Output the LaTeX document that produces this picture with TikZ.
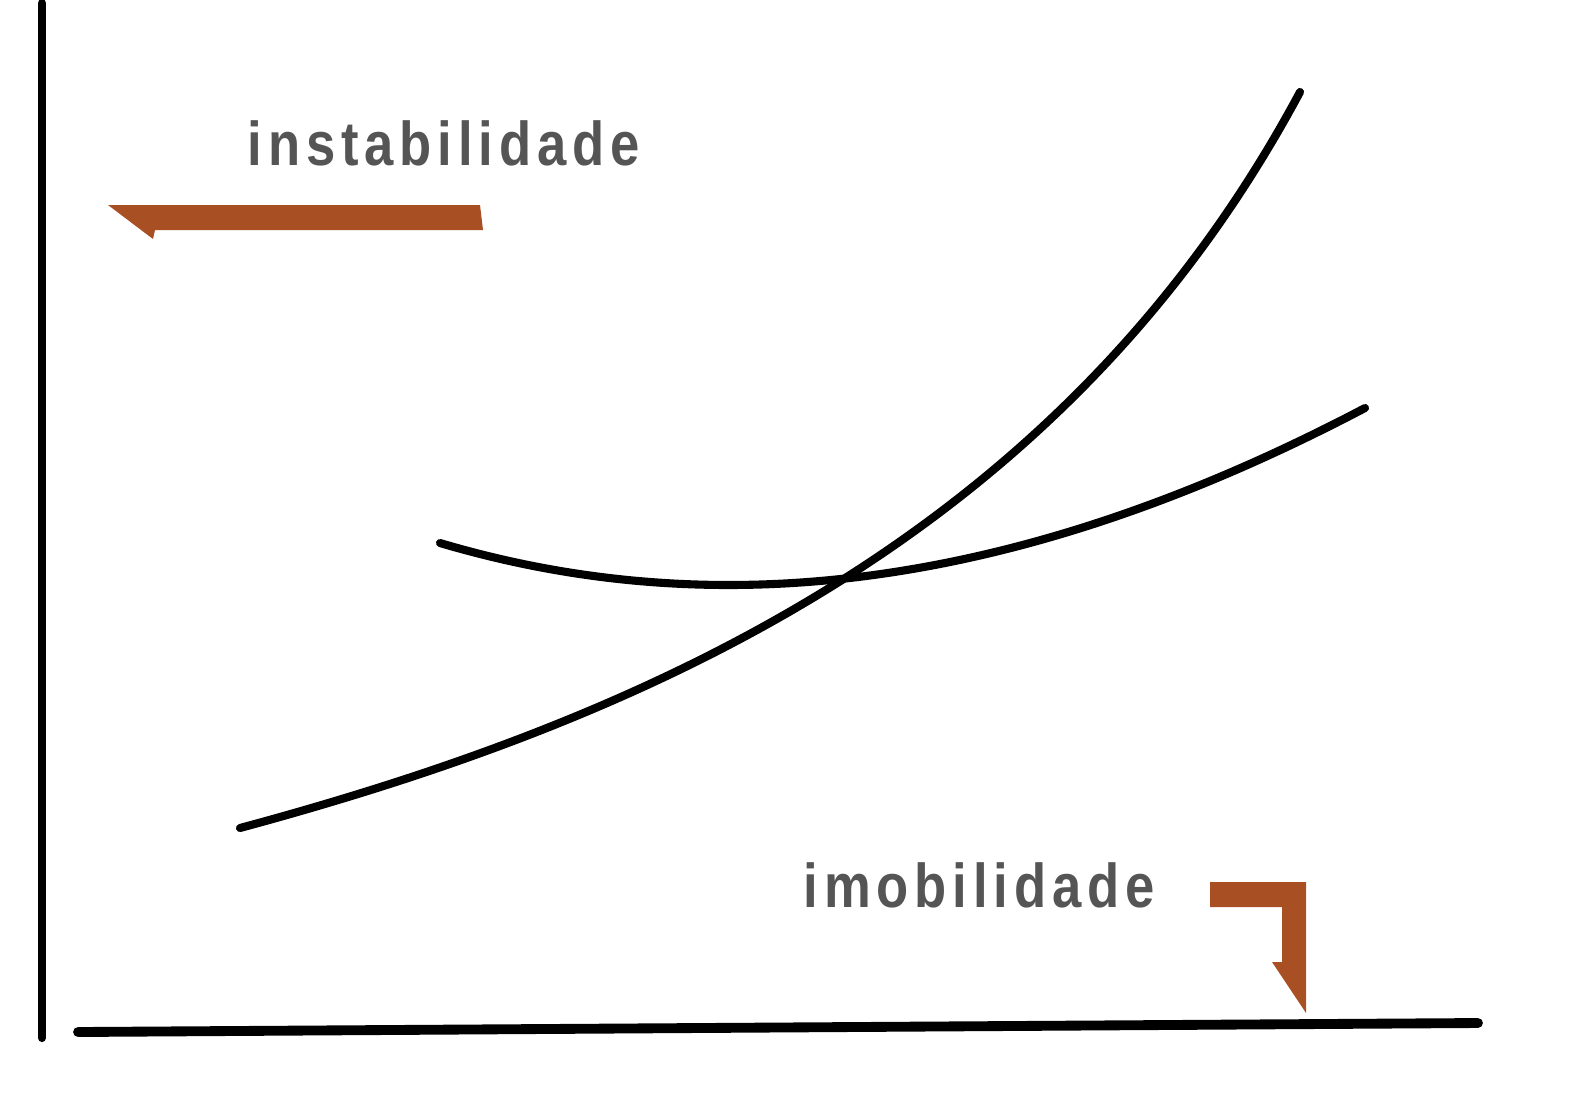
\documentclass[tikz,border=0pt]{standalone}
\usepackage{fontspec}
\setmainfont{Liberation Sans}[FakeStretch=0.85,LetterSpace=9.5]
\usepackage{tikz}
\usepackage{xcolor}
\usetikzlibrary{positioning}
\definecolor{rust}{HTML}{A84F24}
\definecolor{labelgray}{HTML}{555555}
\begin{document}
\begin{tikzpicture}
  [x={(0.01cm,0)},y={(0,-0.01cm)},
   axis/.style={line width=2.3pt,line cap=round},
   curve/.style={line width=2.3pt,line cap=round},
   bigarrow/.style={fill=rust,draw=none},
   tag/.style={anchor=base west,inner sep=0pt,text=labelgray,font=\bfseries\fontsize{17.6}{20}\selectfont}]
  \useasboundingbox (0,0) rectangle (1595,1109);
  % axes
  \coordinate (ytop) at (42,3);
  \coordinate (orig) at (42,1038);
  \coordinate (xl) at (78,1032);
  \coordinate (xr) at (1478,1023);
  \draw[axis] (ytop) -- (orig);
  \draw[axis,line width=2.8pt] (xl) -- (xr);

  % the two curves
  \coordinate (ia) at (240,828);
  \coordinate (ib) at (1300,92);
  \coordinate (ma) at (440,543);
  \coordinate (mb) at (1365,408);
  \draw[curve] (ia) .. controls (640,720) and (1060,540) .. (ib);
  \draw[curve] (ma) .. controls (700,620) and (1000,600) .. (mb);

  % labels
  \node[tag] (inst) at (247,165) {instabilidade};
  \node[tag] (imob) at (803,907) {imobilidade};

  % arrows
  \fill[bigarrow] (108,205) -- (480,205) -- (483,230) -- (155,230)
    -- (153,239) -- cycle;
  \fill[bigarrow] (1210,882) -- (1306,882) -- (1306,1013) -- (1272,962)
    -- (1282,962) -- (1282,907) -- (1210,907) -- cycle;
\end{tikzpicture}
\end{document}
